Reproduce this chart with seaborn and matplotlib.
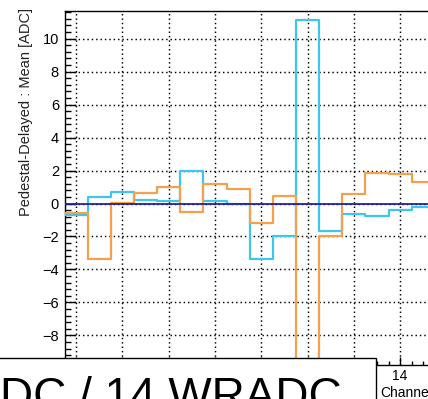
import numpy as np
import pandas as pd
import matplotlib
matplotlib.use("Agg")
import matplotlib.pyplot as plt
import seaborn as sns
from matplotlib.patches import Rectangle
from matplotlib.ticker import MultipleLocator, FixedLocator

# ---- data ----
channels = list(range(16))
series_cyan = [-0.70, 0.41, 0.68, 0.21, 0.15, 1.99, 0.17, -0.06,
               -3.36, -1.99, 11.12, -1.67, -0.66, -0.74, -0.39, -0.23]
series_orange = [-0.55, -3.35, 0.05, 0.65, 0.98, -0.50, 1.18, 0.88,
                 -1.18, 0.47, -12.0, -1.99, 0.56, 1.87, 1.77, 1.28]
y_ticks = [-8, -6, -4, -2, 0, 2, 4, 6, 8, 10]
x_ticks = [0, 2, 4, 6, 8, 10, 12, 14]
x_tick_labels = ["", "", "", "", "", "", "", "14"]  # others are hidden by the title pave
y_title = "Pedestal-Delayed : Mean [ADC]"
x_title = "Channel"
big_title = "WRADC / 14 WRADC"

CYAN = "#3ec6ef"
ORANGE = "#f5a04c"
NAVY = "#23239c"

# ---- step table ----
rows = []
for name, vals in (("cyan", series_cyan), ("orange", series_orange)):
    edges = [c - 0.5 for c in channels] + [channels[-1] + 0.5]
    v = list(vals) + [vals[-1]]
    for e, y in zip(edges, v):
        rows.append({"edge": e, "value": y, "series": name})
df = pd.DataFrame(rows)

sns.set_theme(style="white")
plt.rcParams["font.family"] = ["Liberation Sans", "DejaVu Sans"]

W, H = 428, 399
fig = plt.figure(figsize=(W / 100, H / 100), dpi=100)
fig.patch.set_facecolor("white")

left_px, top_px, bottom_px = 64.5, 11, 365
bin_px = 23.15
width_px = 16 * bin_px
ax = fig.add_axes([left_px / W, (H - bottom_px) / H,
                   width_px / W, (bottom_px - top_px) / H])
ax.set_facecolor("white")

sns.lineplot(data=df, x="edge", y="value", hue="series",
             palette={"cyan": CYAN, "orange": ORANGE},
             drawstyle="steps-post", estimator=None, legend=False,
             linewidth=1.6, ax=ax, zorder=3)
ax.axhline(0, color=NAVY, linewidth=1.3, zorder=4)

ax.set_xlim(-0.5, 15.5)
ax.set_ylim(-9.79, 11.67)
ax.xaxis.set_major_locator(FixedLocator(x_ticks))
ax.xaxis.set_minor_locator(MultipleLocator(0.5))
ax.yaxis.set_major_locator(FixedLocator(y_ticks))
ax.yaxis.set_minor_locator(MultipleLocator(0.4))
ax.set_xticklabels(x_tick_labels)
ax.set_yticklabels(["\u2212" + str(-t) if t < 0 else str(t) for t in y_ticks])
ax.set_xlabel("")
ax.set_ylabel("")

ax.tick_params(axis="y", which="major", direction="in", length=8, width=1.0,
               color="black", labelsize=10.5, pad=4, labelcolor="black")
ax.tick_params(axis="y", which="minor", direction="in", length=4, width=1.0,
               color="black")
ax.tick_params(axis="x", which="major", direction="in", length=5.5, width=1.0,
               color="black", labelsize=10, pad=3, labelcolor="black")
ax.tick_params(axis="x", which="minor", direction="in", length=3, width=1.0,
               color="black")
ax.tick_params(top=False, right=False, which="both")
ax.tick_params(axis="both", which="both", bottom=True, left=True)

for s in ax.spines.values():
    s.set_visible(True)
    s.set_color("black")
    s.set_linewidth(1.0)

ax.grid(True, which="major", color="black", linestyle=(0, (1, 2)),
        linewidth=1.05)
ax.set_axisbelow(True)

# y title (ROOT style, aligned at top end of axis)
fig.text(26 / W, 1 - 8 / H, y_title, rotation=90, ha="center", va="top",
         fontsize=10.5, color="#222222")
# x title
fig.text(380 / W, 1 - 397 / H, x_title, ha="left", va="baseline",
         fontsize=10, color="black")

# title pave overlapping the bottom
rect = Rectangle((-20 / W, -0.2), (376 + 20) / W, (H - 358) / H + 0.2,
                 transform=fig.transFigure, facecolor="white",
                 edgecolor="black", linewidth=1.0, zorder=10)
fig.add_artist(rect)
fig.text(342 / W, 1 - 410 / H, big_title, ha="right", va="baseline",
         fontsize=33, color="black", zorder=11)

fig.savefig("out.png", dpi=100)
